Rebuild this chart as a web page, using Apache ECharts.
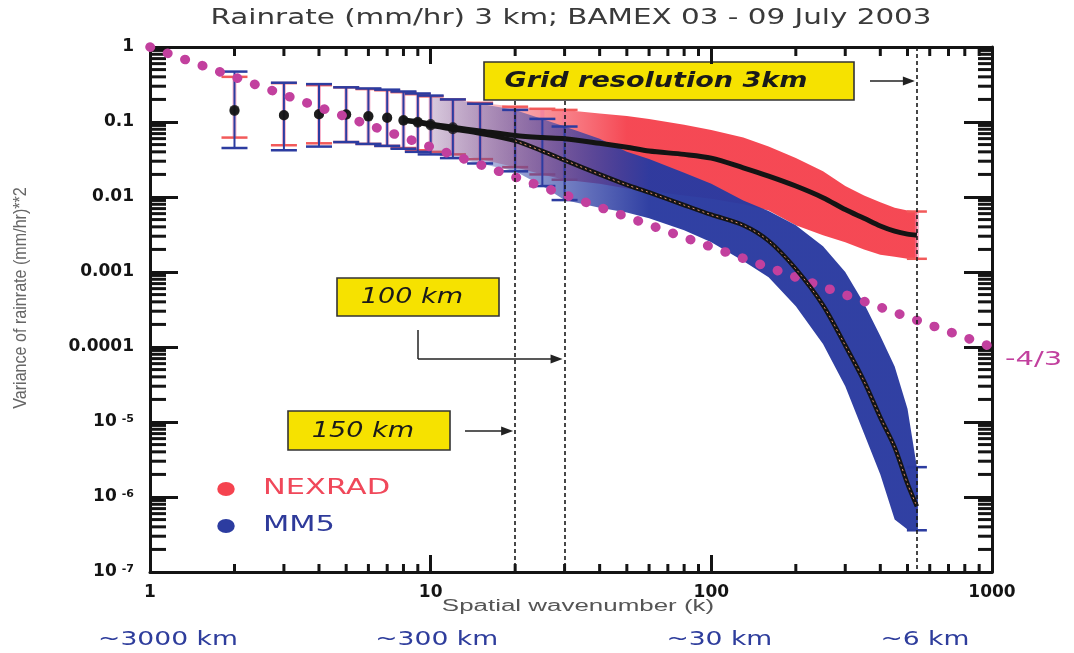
<!DOCTYPE html>
<html><head><meta charset="utf-8">
<script src="https://cdn.jsdelivr.net/npm/echarts@6/dist/echarts.min.js"></script>
<style>html,body{margin:0;padding:0;background:#fff}#c{width:1074px;height:653px}</style>
</head><body><div id="c"></div>
<script>
// ---- data ----
const kVals = [2,3,4,5,6,7,8,9,10,12,15,20,25,30,40,50,60,80,100,130,160,200,250,300,350,400,450,500,540];
const nexradMean = [0.145,0.124,0.128,0.127,0.12,0.115,0.106,0.101,0.094,0.085,0.076,0.066,0.062,0.060,0.052,0.046,0.041,0.037,0.033,0.0245,0.019,0.014,0.0098,0.0068,0.0052,0.0041,0.0035,0.0032,0.0031];
const nexradHi = [0.40,0.33,0.31,0.29,0.275,0.265,0.25,0.235,0.22,0.20,0.18,0.16,0.15,0.145,0.13,0.12,0.11,0.092,0.078,0.062,0.047,0.033,0.022,0.014,0.0105,0.0085,0.0072,0.0066,0.0064];
const nexradLo = [0.062,0.049,0.052,0.054,0.051,0.048,0.045,0.042,0.040,0.037,0.032,0.025,0.020,0.017,0.015,0.013,0.012,0.0105,0.0095,0.008,0.0066,0.0042,0.0031,0.0025,0.002,0.0017,0.0016,0.0015,0.0015];
const mm5Mean = [0.14,0.122,0.126,0.125,0.118,0.113,0.104,0.098,0.09,0.08,0.07,0.056,0.041,0.031,0.02,0.0145,0.0115,0.0078,0.0058,0.0042,0.0026,0.0011,0.00036,0.000105,0.000035,0.0000115,0.0000046,0.0000015,0.00000075];
const mm5Hi = [0.47,0.334,0.32,0.29,0.28,0.27,0.255,0.24,0.225,0.2,0.175,0.145,0.11,0.087,0.06,0.04,0.032,0.021,0.015,0.009,0.0065,0.0042,0.0022,0.001,0.00038,0.00014,0.000055,0.000015,0.0000025];
const mm5Lo = [0.045,0.042,0.047,0.054,0.051,0.048,0.044,0.040,0.037,0.033,0.028,0.022,0.014,0.0091,0.0072,0.0062,0.0052,0.0036,0.0025,0.0014,0.00085,0.00035,0.00011,0.00003,0.000007,0.000002,0.0000005,0.00000037,0.00000036];
const slopeK = [1, 1000];
const slopeV = [1, 1e-4];
const slopeLabel = '-4/3';
const refK = [20, 30, 540];
const refTop = [0.19, 0.19, 1];
const xTickLabels = ['1','10','100','1000'];
const yTickLabels = ['10{sup|-7}','10{sup|-6}','10{sup|-5}','0.0001','0.001','0.01','0.1','1'];
const minorMult = [2,3,4,5,6,7,8,9];
const kmLabels = ['~3000 km','~300 km','~30 km','~6 km'];
const kmAt = [1,10,100,540];
const titleText = 'Rainrate (mm/hr) 3 km; BAMEX 03 - 09 July 2003';
const xName = 'Spatial wavenumber (k)';
const yName = 'Variance of rainrate (mm/hr)**2';
const seriesNames = ['NEXRAD','MM5'];

// ---- colours / styles ----
const RED = '#f5434f', BLUE = '#2c3ca0', MAG = '#c2409e', BLK = '#141414';
const kmDx = [18, 6, 8, 8];

const bandStart = kVals.indexOf(10);
const barIdx = kVals.map((k,i)=>i).filter(i => kVals[i] <= 30 || i === kVals.length-1);
const dotIdx = kVals.map((k,i)=>i).filter(i => kVals[i] <= 12);
const lineIdx = kVals.map((k,i)=>i).filter(i => kVals[i] >= 8);

function bandSeries(name, lo, hi, fullIdx, c0, c1) {
  return {
    type:'custom', name, silent:true, clip:false,
    data: [[kVals[bandStart], hi[bandStart]]],
    renderItem: (params, api) => {
      const pts = [];
      for (let i = bandStart; i < kVals.length; i++) pts.push(api.coord([kVals[i], hi[i]]));
      for (let i = kVals.length-1; i >= bandStart; i--) pts.push(api.coord([kVals[i], lo[i]]));
      const xa = api.coord([kVals[bandStart], 1])[0], xb = api.coord([kVals[fullIdx], 1])[0];
      return {type:'polygon', shape:{points:pts}, style:{fill:{type:'linear', x:xa, y:0, x2:xb, y2:0, global:true,
        colorStops:[{offset:0,color:c0},{offset:1,color:c1}]}}};
    }
  };
}
function barSeries(name, lo, hi, stemColor, stemW, capColor) {
  return {
    type:'custom', name, silent:true, clip:false,
    data: barIdx.map(i => [kVals[i], lo[i], hi[i]]),
    encode: {x:0, y:[1,2]},
    renderItem: (params, api) => {
      const k = api.value(0);
      const a = api.coord([k, api.value(2)]), b = api.coord([k, api.value(1)]);
      const w = params.dataIndex === barIdx.length-1 ? 10 : 13;
      return {type:'group', children:[
        {type:'line', shape:{x1:a[0],y1:a[1],x2:b[0],y2:b[1]}, style:{stroke:stemColor, lineWidth:stemW}},
        {type:'line', shape:{x1:a[0]-w,y1:a[1],x2:a[0]+w,y2:a[1]}, style:{stroke:capColor, lineWidth:2.5}},
        {type:'line', shape:{x1:b[0]-w,y1:b[1],x2:b[0]+w,y2:b[1]}, style:{stroke:capColor, lineWidth:2.5}}
      ]};
    }
  };
}
const xMinor = [], yMinor = [];
for (let d = 0; d < 3; d++) minorMult.forEach(m => xMinor.push(m * Math.pow(10, d)));
for (let d = -7; d < 0; d++) minorMult.forEach(m => yMinor.push(m * Math.pow(10, d)));

const axisLineStyle = {show:true, onZero:false, lineStyle:{color:BLK, width:3}};
const lblFont = {fontFamily:'DejaVu Sans', fontWeight:'bold', fontSize:17, color:BLK};

const option = {
  animation:false,
  backgroundColor:'#fff',
  grid:{left:150, top:47, right:82, bottom:81, containLabel:false},
  xAxis:[
    {type:'log', logBase:10, min:1, max:1000, interval:1, position:'bottom',
     axisLine:axisLineStyle, axisTick:{inside:true, length:17, lineStyle:{width:3,color:BLK}},
     axisLabel:Object.assign({margin:12, formatter:v => xTickLabels[Math.round(Math.log10(v))]}, lblFont),
     splitLine:{show:false}},
    {type:'log', logBase:10, min:1, max:1000, interval:1, position:'top',
     axisLine:axisLineStyle, axisTick:{inside:true, length:17, lineStyle:{width:3,color:BLK}},
     axisLabel:{show:false}, splitLine:{show:false}}
  ],
  yAxis:[
    {type:'log', logBase:10, min:1e-7, max:1, interval:1, position:'left',
     axisLine:axisLineStyle, axisTick:{inside:true, length:28, lineStyle:{width:3,color:BLK}},
     axisLabel:Object.assign({margin:16, formatter:v => yTickLabels[Math.round(Math.log10(v))+7],
       rich:{sup:{fontFamily:'DejaVu Sans', fontWeight:'bold', fontSize:11, color:BLK, verticalAlign:'top', padding:[0,0,6,5]}}}, lblFont),
     splitLine:{show:false}},
    {type:'log', logBase:10, min:1e-7, max:1, interval:1, position:'right',
     axisLine:axisLineStyle, axisTick:{inside:true, length:28, lineStyle:{width:3,color:BLK}},
     axisLabel:{show:false}, splitLine:{show:false}}
  ],
  series:[
    {type:'custom', name:'xminor', silent:true, clip:false, data:xMinor.map(k=>[k,1e-7]),
     renderItem:(p,api)=>{const b=api.coord([api.value(0),1e-7]), t=api.coord([api.value(0),1]);
       return {type:'group',children:[
         {type:'line',shape:{x1:b[0],y1:b[1],x2:b[0],y2:b[1]-8},style:{stroke:BLK,lineWidth:3}},
         {type:'line',shape:{x1:t[0],y1:t[1],x2:t[0],y2:t[1]+9},style:{stroke:BLK,lineWidth:3}}]};}},
    {type:'custom', name:'yminor', silent:true, clip:false, data:yMinor.map(v=>[1,v]),
     renderItem:(p,api)=>{const l=api.coord([1,api.value(1)]), r=api.coord([1000,api.value(1)]);
       return {type:'group',children:[
         {type:'line',shape:{x1:l[0],y1:l[1],x2:l[0]+16,y2:l[1]},style:{stroke:BLK,lineWidth:3}},
         {type:'line',shape:{x1:r[0],y1:r[1],x2:r[0]-14,y2:r[1]},style:{stroke:BLK,lineWidth:3}}]};}},
    bandSeries(seriesNames[0], nexradLo, nexradHi, kVals.indexOf(50), 'rgba(245,100,110,0.15)', 'rgba(245,67,79,0.97)'),
    barSeries(seriesNames[0], nexradLo, nexradHi, 'rgba(240,120,160,0.55)', 4, '#f25a5a'),
    bandSeries(seriesNames[1], mm5Lo, mm5Hi, kVals.indexOf(60), 'rgba(50,70,170,0.18)', 'rgba(42,58,160,0.97)'),
    barSeries(seriesNames[1], mm5Lo, mm5Hi, BLUE, 2, BLUE),
    {type:'line', name:'slope', data:slopeK.map((k,i)=>[k, slopeV[i]]), clip:false, showSymbol:false, silent:true,
     lineStyle:{color:MAG, width:9.5, type:[0.5,18], cap:'round'},
     markLine:{symbol:['none','none'], silent:true, label:{show:false}, emphasis:{disabled:true},
       lineStyle:{type:[4,3], color:'#1a1a1a', width:1.6},
       data: refK.map((k,i)=>[{coord:[k, refTop[i]]},{coord:[k, 1e-7]}])}},
    {type:'line', name:'nexrad mean', data:lineIdx.map(i=>[kVals[i], nexradMean[i]]), showSymbol:false, smooth:0.3, silent:true,
     lineStyle:{color:BLK, width:5}},
    {type:'line', name:'mm5 mean', data:lineIdx.map(i=>[kVals[i], mm5Mean[i]]), showSymbol:false, smooth:0.3, silent:true,
     lineStyle:{color:BLK, width:4.5}},
    {type:'line', name:'mm5 core', data:lineIdx.filter(i=>kVals[i]>=20).map(i=>[kVals[i], mm5Mean[i]]), showSymbol:false, smooth:0.3, silent:true,
     lineStyle:{color:'#e8956a', width:1, type:[2,3]}},
    {type:'scatter', name:'mm5 dots', data:dotIdx.map(i=>[kVals[i], mm5Mean[i]]), symbolSize:10, silent:true, itemStyle:{color:BLK}},
    {type:'scatter', name:'nexrad dots', data:dotIdx.map(i=>[kVals[i], nexradMean[i]]), symbolSize:10, silent:true, itemStyle:{color:BLK}}
  ]
};

const chart = echarts.init(document.getElementById('c'), null, {renderer:'canvas'});
chart.setOption(option);

const px = k => chart.convertToPixel({xAxisIndex:0}, k);
const py = v => chart.convertToPixel({yAxisIndex:0}, v);

function txt(text, x, y, opt) {
  return Object.assign({type:'text', x, y, silent:true,
    style:Object.assign({text, align:'center', verticalAlign:'middle', textAlign:'center', textVerticalAlign:'middle',
      fill:'#333', fontFamily:'DejaVu Sans', fontSize:20}, opt.style || {})}, opt.el || {});
}
function arrow(x1, y, x2) {
  return [
    {type:'line', silent:true, shape:{x1, y1:y, x2:x2-9, y2:y}, style:{stroke:'#222', lineWidth:1.5}},
    {type:'polygon', silent:true, shape:{points:[[x2,y],[x2-12,y-4.5],[x2-12,y+4.5]]}, style:{fill:'#222'}}
  ];
}
function box(x, y, w, h) {
  return {type:'rect', silent:true, shape:{x, y, width:w, height:h}, style:{fill:'#f6e200', stroke:'#333', lineWidth:1.6}};
}

const g = [];
g.push(txt(titleText, 571, 19, {style:{fontSize:21, fill:'#3a3a3a'}, el:{scaleX:1.4}}));
g.push(txt(xName, 578, 607, {style:{fontFamily:'Liberation Sans', fontSize:16, fill:'#555'}, el:{scaleX:1.62}}));
g.push(txt(yName, 21, 298, {style:{fontFamily:'Liberation Sans', fontSize:14, fill:'#666'}, el:{rotation:Math.PI/2, scaleX:1.15, scaleY:1.35}}));
kmLabels.forEach((t,i) => g.push(txt(t, px(kmAt[i]) + kmDx[i], 640, {style:{fontSize:19, fill:'#2e3d9c'}, el:{scaleX:1.4}})));
g.push(txt(slopeLabel, px(slopeK[1]) + 13, py(slopeV[1]) + 13, {style:{fontSize:20, fill:MAG, align:'left', textAlign:'left'}, el:{scaleX:1.45}}));
[[RED,'#f0485a'],[BLUE,'#2e3a9a']].forEach((c,i) => {
  const y = 489 + i*37;
  g.push({type:'circle', silent:true, x:226, y, scaleX:1.25, shape:{cx:0, cy:0, r:7}, style:{fill:c[0]}});
  g.push(txt(seriesNames[i], 263, y, {style:{fontSize:21, fill:c[1], align:'left', textAlign:'left'}, el:{scaleX:1.45}}));
});
const xg = px(refK[2]);
g.push(box(484, 62, 370, 38));
g.push(txt('Grid resolution 3km', 656, 81, {style:{fontSize:22, fontWeight:'bold', fontStyle:'italic', fill:'#1a1a1a'}, el:{scaleX:1.23}}));
arrow(870, 81, xg - 2).forEach(e => g.push(e));
const x100 = px(refK[1]);
g.push(box(337, 278, 162, 38));
g.push(txt('100 km', 412, 297, {style:{fontSize:22, fontStyle:'italic', fill:'#1a1a1a'}, el:{scaleX:1.23}}));
g.push({type:'line', silent:true, shape:{x1:418, y1:330, x2:418, y2:359}, style:{stroke:'#222', lineWidth:1.5}});
arrow(418, 359, x100 - 2).forEach(e => g.push(e));
const x150 = px(refK[0]);
g.push(box(288, 411, 162, 39));
g.push(txt('150 km', 363, 431, {style:{fontSize:22, fontStyle:'italic', fill:'#1a1a1a'}, el:{scaleX:1.23}}));
arrow(465, 431, x150 - 2).forEach(e => g.push(e));

chart.setOption({graphic:{elements:g}});
</script>
</body></html>
